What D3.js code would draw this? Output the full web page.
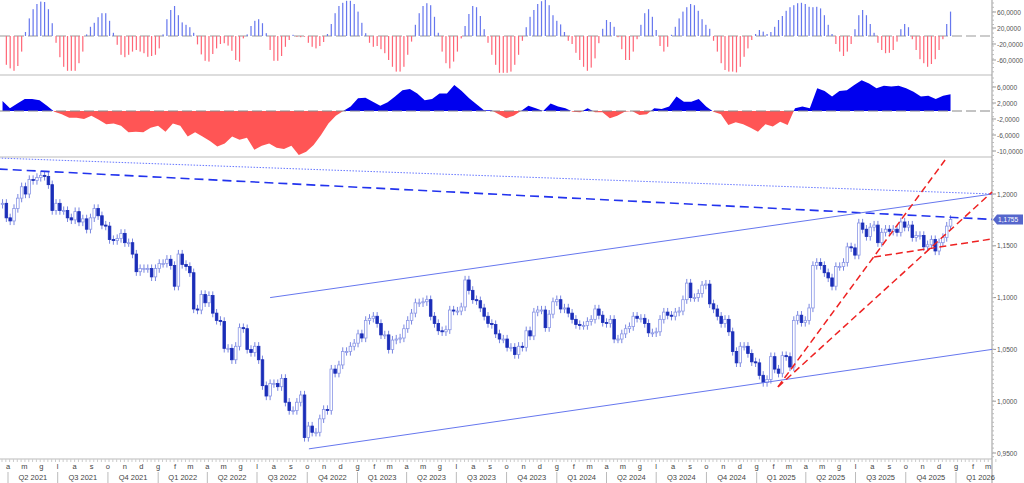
<!DOCTYPE html>
<html><head><meta charset="utf-8">
<script src="https://cdn.jsdelivr.net/npm/d3@7"></script>
<style>body{margin:0;background:#fff}svg{display:block;font-family:"Liberation Sans",Arial,sans-serif}</style>
</head><body>
<svg id="c" width="1024" height="483"></svg>
<script>
// ---------- DATA ----------
const lastDate = "2025-12-22";
const closes = [1.191,1.177,1.174,1.186,1.196,1.207,1.200,1.214,1.213,1.216,1.218,1.217,1.209,1.184,1.191,1.184,1.184,1.177,1.175,1.183,1.173,1.176,1.166,1.177,1.186,1.179,1.170,1.169,1.156,1.155,1.157,1.162,1.153,1.153,1.142,1.125,1.128,1.128,1.128,1.120,1.128,1.133,1.133,1.137,1.131,1.111,1.142,1.132,1.130,1.124,1.089,1.088,1.103,1.095,1.102,1.085,1.078,1.077,1.051,1.051,1.040,1.053,1.071,1.070,1.050,
1.047,1.053,1.040,1.015,1.005,1.017,1.017,1.014,1.022,0.999,0.991,0.991,0.999,1.006,0.965,0.976,0.970,0.970,0.983,0.992,0.991,1.031,1.027,1.035,1.048,1.048,1.053,1.056,1.065,1.061,1.078,1.080,1.082,1.075,1.064,1.064,1.050,1.059,1.060,1.061,1.070,1.078,1.085,1.095,1.095,1.096,1.098,1.082,1.075,1.068,1.067,1.069,1.088,1.087,1.087,1.091,1.117,1.107,1.098,1.097,1.090,1.082,1.075,
1.074,1.065,1.060,1.060,1.052,1.052,1.045,1.053,1.052,1.068,1.063,1.086,1.088,1.088,1.071,1.084,1.096,1.098,1.089,1.090,1.085,1.079,1.074,1.073,1.073,1.077,1.079,1.089,1.083,1.076,1.075,1.079,1.060,1.060,1.065,1.070,1.072,1.082,1.080,1.080,1.075,1.066,1.066,1.067,1.079,1.086,1.083,1.082,1.086,1.087,1.098,1.114,1.100,1.100,1.104,1.112,1.113,1.094,1.089,1.082,1.075,1.079,1.067,
1.048,1.037,1.053,1.053,1.046,1.038,1.037,1.025,1.018,1.021,1.043,1.031,1.027,1.044,1.043,1.033,1.078,1.083,1.076,1.078,1.090,1.131,1.134,1.131,1.124,1.119,1.111,1.130,1.130,1.134,1.149,1.148,1.141,1.172,1.166,1.159,1.168,1.170,1.153,1.163,1.166,1.164,1.166,1.163,1.173,1.168,1.170,1.158,1.160,1.160,1.149,1.151,1.156,1.145,1.153,1.158,1.169,1.1755];
const firstOpen = 1.190;
const wick = 0.004;

// top oscillator (thousands)
const osc = [-72,-81,-87,-75,-39,10,44,67,80,86,85,67,32,-17,-53,-77,-87,-87,-87,-68,-39,4,23,33,47,57,57,38,8,-22,-47,-53,-47,-39,-35,-39,-43,-52,-50,-47,-31,4,42,65,75,52,34,28,22,8,-21,-46,-62,-64,-45,-31,-20,-18,-24,-37,-60,-64,-6,4,25,38,42,32,7,-35,-62,-62,-50,-27,-10,3,-2,-3,-2,-17,-27,-31,-25,-15,5,30,57,75,83,88,88,80,61,33,7,-17,-27,-25,-33,-43,-60,-77,-89,-89,-77,-47,-14,28,57,75,82,77,48,8,-39,-68,-81,-64,-39,-6,25,55,75,72,50,17,-17,-47,-72,-92,
-92,-92,-89,-72,-47,-12,22,48,65,80,87,90,77,52,38,29,10,-12,-20,-42,-60,-77,-87,-79,-56,-18,18,40,35,23,-3,-33,-60,-60,-39,-8,28,57,67,48,15,-25,-39,-27,3,23,44,61,72,80,77,63,42,28,18,-12,-39,-68,-85,-89,-89,-91,-77,-52,-31,-10,5,15,11,5,10,23,40,50,63,72,77,82,83,80,73,72,73,69,52,28,5,-20,-39,-50,-39,-20,17,52,65,52,30,8,-17,-35,-43,-42,-35,-14,17,30,22,-8,-35,-58,-68,-77,-70,-58,-35,-8,30,61];

// middle area (thousands)
const flow = [2.5,0.7,1.9,3.0,3.0,2.7,1.3,-0.2,-0.8,-1.7,-1.7,-2.0,-1.2,-2.2,-3.3,-3.1,-3.7,-5.3,-5.2,-5.3,-4.2,-3.7,-5.2,-3.1,-3.7,-6.4,-5.3,-6.4,-7.5,-8.9,-8.1,-6.4,-7.2,-6.7,-9.7,-8.7,-8.1,-9.2,-9.5,-8.7,-11.0,-10.2,-8.5,-6.0,-3.1,-1.2,0,1.1,3.2,3.3,2.3,1.3,2.2,3.6,5.2,5.5,4.4,2.7,3.0,4.4,4.4,6.5,5.0,3.2,1.7,0.2,
0.2,-0.8,-1.8,-1.2,0,1.3,0.7,0,1.9,1.1,0.7,-0.2,-0.3,0.7,-0.3,-0.3,-1.8,-1.2,-0.2,0,-1.0,-0.8,0.7,0.5,1.1,3.6,2.3,2.3,3.0,1.1,-0.2,-0.8,-3.5,-2.8,-3.3,-4.2,-5.2,-3.3,-3.9,-2.7,-3.5,0.7,1.1,0.7,5.7,5.0,3.6,5.0,5.2,6.5,7.7,6.9,5.7,6.3,6.1,6.3,5.7,4.8,3.6,3.8,3.0,3.8,4.2];

const oscTicks = [60000,20000,-20000,-60000];
const oscTickLabels = ["60,0000","20,0000","-20,0000","-60,0000"];
const flowTicks = [6000,2000,-2000,-6000,-10000];
const flowTickLabels = ["6,0000","2,0000","-2,0000","-6,0000","-10,0000"];
const priceTicks = [1.20,1.15,1.10,1.05,1.00,0.95];
const priceTickLabels = ["1,2000","1,1500","1,1000","1,0500","1,0000","0,9500"];
const monthLetters = ["g","f","m","a","m","g","l","a","s","o","n","d"];
const lastLabel = "1,1755";

// trend lines: [date, price] pairs
const blueDashed = [["2021-03-15",1.2241],["2026-03-08",1.1755]];
const blueDotted = [["2021-03-15",1.2347],["2026-03-08",1.2000]];
const channelUp = [["2022-07-25",1.1000],["2026-03-08",1.2000]];
const channelLow = [["2022-10-04",0.9540],["2026-03-08",1.0500]];
const redSteep = [["2025-02-09",1.0138],["2025-12-12",1.2328]];
const redMid = [["2025-02-09",1.0138],["2026-03-08",1.2019]];
const redFlat = [["2025-08-04",1.1392],["2026-03-08",1.1566]];

// ---------- SCALES ----------
const P = d3.timeParse("%Y-%m-%d");
const W = 992;
const x = d3.scaleTime().domain([P("2021-04-01"),P("2026-01-01")]).range([8,956]);
const yP = d3.scaleLinear().domain([0.95,1.20]).range([453,194]);
const yO = d3.scaleLinear().domain([-60000,60000]).range([60,12]);
const yF = d3.scaleLinear().domain([-10000,6000]).range([151,87]);
const zeroO = yO(0), zeroF = yF(0);

const end = P(lastDate);
const dateAt = (i,n)=>d3.timeDay.offset(end,-7*(n-1-i));
const svg = d3.select("#c");

svg.append("g").selectAll("line").data([75,157,459]).join("line")
  .attr("x1",0).attr("x2",W).attr("y1",d=>d).attr("y2",d=>d).attr("stroke","#bbb");
svg.append("line").attr("x1",W).attr("x2",W).attr("y1",0).attr("y2",483).attr("stroke","#999");

// ---------- TOP OSC ----------
svg.append("line").attr("x1",0).attr("x2",W).attr("y1",zeroO).attr("y2",zeroO)
  .attr("stroke","#999").attr("stroke-dasharray","10,4");
svg.append("g").selectAll("rect").data(osc).join("rect")
  .attr("x",(d,i)=>x(dateAt(i,osc.length))-0.6).attr("width",1.2)
  .attr("y",d=>yO(Math.max(0,d*1000))).attr("height",d=>Math.abs(yO(d*1000)-zeroO))
  .attr("fill",d=>d>=0?"#6677ee":"#ff6677");

// ---------- MIDDLE AREA ----------
const t0 = dateAt(0,closes.length), t1 = end;
const fx = d3.scaleLinear().domain([0,flow.length-1]).range([x(t0),x(t1)]);
const defs = svg.append("defs");
defs.append("clipPath").attr("id","cpPos").append("rect").attr("x",0).attr("y",75).attr("width",W).attr("height",zeroF-75);
defs.append("clipPath").attr("id","cpNeg").append("rect").attr("x",0).attr("y",zeroF).attr("width",W).attr("height",157-zeroF);
const ar = d3.area().x((d,i)=>fx(i)).y0(zeroF).y1(d=>yF(d*1000));
svg.append("path").datum(flow).attr("d",ar).attr("fill","#0000ee").attr("clip-path","url(#cpPos)");
svg.append("path").datum(flow).attr("d",ar).attr("fill","#ff5555").attr("clip-path","url(#cpNeg)");
svg.append("line").attr("x1",0).attr("x2",W).attr("y1",zeroF).attr("y2",zeroF)
  .attr("stroke","#888").attr("stroke-dasharray","10,4");

// ---------- PRICE ----------
const candles = closes.map((c,i)=>{
  const o = i===0?firstOpen:closes[i-1];
  return {d:dateAt(i,closes.length),o,c,h:Math.max(o,c)+wick,l:Math.min(o,c)-wick};
});
const cg = svg.append("g");
cg.selectAll("line").data(candles).join("line")
  .attr("x1",d=>x(d.d)).attr("x2",d=>x(d.d)).attr("y1",d=>yP(d.h)).attr("y2",d=>yP(d.l))
  .attr("stroke","#6a78dd").attr("stroke-width",0.9);
cg.selectAll("rect").data(candles).join("rect")
  .attr("x",d=>x(d.d)-1.3).attr("width",2.6)
  .attr("y",d=>yP(Math.max(d.o,d.c))).attr("height",d=>Math.max(1,Math.abs(yP(d.o)-yP(d.c))))
  .attr("fill",d=>d.c<d.o?"#1a2db8":"#fff").attr("stroke",d=>d.c<d.o?"#1a2db8":"#8a96e6").attr("stroke-width",0.8);

const ln = d3.line().x(d=>x(P(d[0]))).y(d=>yP(d[1]));
const drawL=(data,col,w,dash)=>svg.append("path").datum(data).attr("d",ln).attr("fill","none")
  .attr("stroke",col).attr("stroke-width",w).attr("stroke-dasharray",dash);
drawL(blueDotted,"#6677ff",1,"1.5,1.5");
drawL(blueDashed,"#2233ee",1.6,"9,5");
drawL(channelUp,"#6677ee",1,null);
drawL(channelLow,"#6677ee",1,null);
drawL(redSteep,"#ee2222",1.5,"7,4");
drawL(redMid,"#ee2222",1.5,"7,4");
drawL(redFlat,"#ee2222",1.5,"7,4");

// ---------- RIGHT AXES ----------
const ax = svg.append("g").attr("font-size",6.6).attr("fill","#555");
const rightTicks=(vals,labels,sc,top,bot)=>{
  vals.forEach((v,i)=>{
    ax.append("line").attr("x1",W).attr("x2",W+4).attr("y1",sc(v)).attr("y2",sc(v)).attr("stroke","#999");
    ax.append("text").attr("x",W+5).attr("y",sc(v)+2.5).text(labels[i]);
  });
  for(let yy=top+3; yy<bot; yy+=4.3) ax.append("line").attr("x1",W).attr("x2",W+2).attr("y1",yy).attr("y2",yy).attr("stroke","#bbb");
};
rightTicks(oscTicks,oscTickLabels,yO,0,75);
rightTicks(flowTicks,flowTickLabels,yF,75,157);
rightTicks(priceTicks,priceTickLabels,yP,157,459);
const ly = yP(closes[closes.length-1]);
svg.append("path").attr("d",`M${W+1},${ly} l4,-5 h26 v10 h-26 z`).attr("fill","#5566cc");
svg.append("text").attr("x",W+6).attr("y",ly+2.5).attr("font-size",6.6).attr("fill","#fff").text(lastLabel);

// ---------- BOTTOM AXIS ----------
const bx = svg.append("g").attr("font-size",7.5).attr("fill","#444");
d3.timeWeek.range(P("2021-03-08"),P("2026-03-20")).forEach(d=>{
  bx.append("line").attr("x1",x(d)).attr("x2",x(d)).attr("y1",459).attr("y2",462).attr("stroke","#ccc");
});
d3.timeMonth.range(P("2021-04-01"),P("2026-04-01")).forEach(d=>{
  bx.append("text").attr("x",x(d)).attr("y",469).attr("text-anchor","middle").text(monthLetters[d.getMonth()]);
});
const qs = d3.timeMonth.every(3).range(P("2021-04-01"),P("2026-04-01"));
qs.forEach(d=>{
  bx.append("line").attr("x1",x(d)).attr("x2",x(d)).attr("y1",472).attr("y2",483).attr("stroke","#bbb");
  const mid = new Date((+d + +d3.timeMonth.offset(d,3))/2);
  bx.append("text").attr("x",x(mid)).attr("y",480).attr("text-anchor","middle")
    .text("Q"+(Math.floor(d.getMonth()/3)+1)+" "+d.getFullYear());
});
</script>
</body></html>
